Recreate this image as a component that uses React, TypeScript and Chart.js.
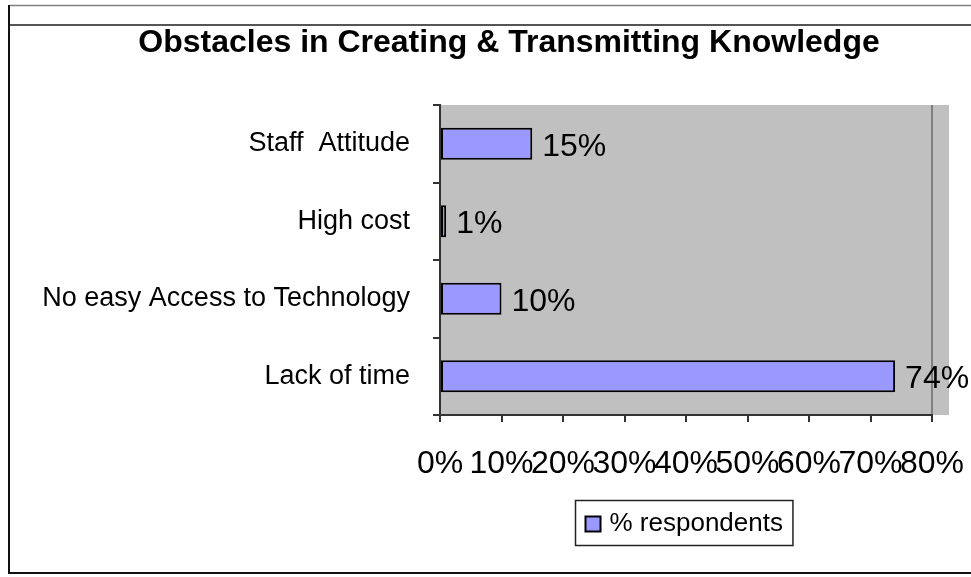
import React, { useEffect, useRef } from "react";
import { Chart, registerables } from "chart.js";

Chart.register(...registerables);

const titleText = "Obstacles in Creating & Transmitting Knowledge";
const categories = ["Staff  Attitude", "High cost", "No easy Access to Technology", "Lack of time"];
const respondents = [15, 1, 10, 74];
const seriesName = "% respondents";
const xMin = 0;
const xMax = 80;
const xStep = 10;

const FONT = "'Liberation Sans', Arial, Helvetica, sans-serif";
const BAR_COLOR = "#9999FF";
const PLOT_BG = "#C0C0C0";
const TITLE_CENTER_X = 509;
const TITLE_CENTER_Y = 43;

const framePlugin = {
  id: "framePlugin",
  beforeDraw(chart: any) {
    const { ctx, chartArea } = chart;
    ctx.save();
    ctx.fillStyle = PLOT_BG;
    ctx.fillRect(chartArea.left, chartArea.top, chartArea.right - chartArea.left + 17, chartArea.bottom - chartArea.top);
    ctx.restore();
  },
  afterDraw(chart: any) {
    const { ctx, chartArea, width } = chart;
    ctx.save();
    // outer frame lines
    ctx.lineWidth = 1.5;
    ctx.strokeStyle = "#808080";
    ctx.beginPath();
    ctx.moveTo(9, 5.5);
    ctx.lineTo(width, 5.5);
    ctx.stroke();
    ctx.lineWidth = 2;
    ctx.strokeStyle = "#555";
    ctx.beginPath();
    ctx.moveTo(9, 25);
    ctx.lineTo(width, 25);
    ctx.stroke();
    ctx.strokeStyle = "#111";
    ctx.beginPath();
    ctx.moveTo(9, 5);
    ctx.lineTo(9, 573);
    ctx.lineTo(width, 573);
    ctx.stroke();

    // title
    ctx.font = `bold 32px ${FONT}`;
    ctx.fillStyle = "#000";
    ctx.textAlign = "center";
    ctx.textBaseline = "middle";
    ctx.fillText(titleText, TITLE_CENTER_X, TITLE_CENTER_Y);

    // legend
    const ds = chart.data.datasets[0];
    ctx.font = `26px ${FONT}`;
    const tw = ctx.measureText(ds.label).width;
    const boxW = 10 + 15 + 9 + tw + 10;
    const boxH = 45;
    const cx = (chartArea.left + chartArea.right) / 2 - 2;
    const bx = Math.round(cx - boxW / 2) + 0.5;
    const by = chartArea.bottom + 85.5;
    ctx.fillStyle = "#fff";
    ctx.fillRect(bx, by, boxW, boxH);
    ctx.lineWidth = 1.5;
    ctx.strokeStyle = "#222";
    ctx.strokeRect(bx, by, boxW, boxH);
    ctx.fillStyle = ds.backgroundColor;
    ctx.fillRect(bx + 10, by + 16, 15, 15);
    ctx.lineWidth = 2;
    ctx.strokeStyle = "#000";
    ctx.strokeRect(bx + 10, by + 16, 15, 15);
    ctx.fillStyle = "#000";
    ctx.textAlign = "left";
    ctx.textBaseline = "middle";
    ctx.fillText(ds.label, bx + 34, by + boxH / 2 + 1);
    ctx.restore();
  },
  afterDatasetsDraw(chart: any) {
    const { ctx } = chart;
    const meta = chart.getDatasetMeta(0);
    const data = chart.data.datasets[0].data as number[];
    ctx.save();
    ctx.font = `32px ${FONT}`;
    ctx.fillStyle = "#000";
    ctx.textAlign = "left";
    ctx.textBaseline = "middle";
    meta.data.forEach((bar: any, i: number) => {
      ctx.fillText(`${data[i]}%`, bar.x + 10, bar.y + 3);
    });
    ctx.restore();
  },
};

export default function App() {
  const ref = useRef<HTMLCanvasElement | null>(null);

  useEffect(() => {
    if (!ref.current) return;
    const chart = new Chart(ref.current, {
      type: "bar",
      data: {
        labels: categories,
        datasets: [
          {
            label: seriesName,
            data: respondents,
            backgroundColor: BAR_COLOR,
            borderColor: "#000",
            borderWidth: 2,
            borderSkipped: false,
            categoryPercentage: 1,
            barPercentage: 0.41,
          },
        ],
      },
      options: {
        indexAxis: "y",
        animation: false,
        responsive: false,
        devicePixelRatio: 1,
        layout: { padding: { left: 0, right: 39, top: 105, bottom: 82 } },
        plugins: {
          legend: { display: false },
          tooltip: { enabled: false },
          title: { display: false },
        },
        scales: {
          x: {
            type: "linear",
            position: "bottom",
            min: xMin,
            max: xMax,
            ticks: {
              stepSize: xStep,
              color: "#000",
              font: { family: FONT, size: 32 },
              padding: 23,
              maxRotation: 0,
              autoSkip: false,
              callback: (v: any) => `${v}%`,
            },
            grid: {
              drawOnChartArea: true,
              drawTicks: true,
              tickLength: 7,
              lineWidth: 2,
              color: (c: any) => (c.tick && c.tick.value === xMax ? "#808080" : "rgba(0,0,0,0)"),
              tickColor: "#333",
            },
            border: { display: true, color: "#333", width: 2 },
            afterFit: (s: any) => {
              s.height = 80;
              s.paddingLeft = 0;
              s.paddingRight = 0;
            },
          },
          y: {
            type: "category",
            position: "left",
            ticks: {
              color: "#000",
              font: { family: FONT, size: 27 },
              padding: 23,
              autoSkip: false,
            },
            grid: {
              offset: true,
              drawOnChartArea: false,
              drawTicks: true,
              tickLength: 7,
              lineWidth: 2,
              color: "#333",
            },
            border: { display: true, color: "#333", width: 2 },
            afterFit: (s: any) => {
              s.width = 440;
              s.paddingTop = 0;
              s.paddingBottom = 0;
            },
          },
        },
      },
      plugins: [framePlugin],
    });
    return () => chart.destroy();
  }, []);

  return (
    <div style={{ position: "absolute", left: 0, top: 0, width: 971, height: 577, background: "#fff" }}>
      <canvas ref={ref} width={971} height={577} style={{ display: "block", width: 971, height: 577 }} />
    </div>
  );
}
